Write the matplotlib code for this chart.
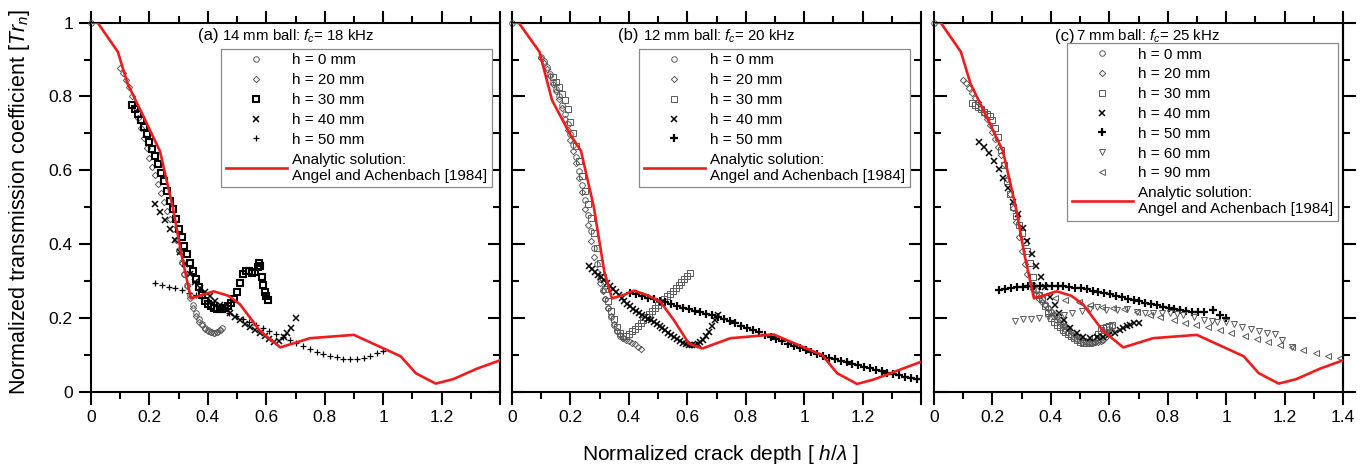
import matplotlib
matplotlib.use('Agg')
import matplotlib.pyplot as plt
from matplotlib.ticker import MultipleLocator, FuncFormatter

# ---------------- DATA ----------------
# Analytic solution (Angel and Achenbach 1984)
AN_X = [0, 0.023, 0.092, 0.125, 0.18, 0.236, 0.28, 0.31, 0.342, 0.38, 0.42, 0.47, 0.51, 0.578,
        0.648, 0.75, 0.9, 1.06, 1.112, 1.18, 1.24, 1.32, 1.4]
AN_Y = [1.0, 1.0, 0.921, 0.835, 0.745, 0.652, 0.50, 0.37, 0.253, 0.262, 0.272, 0.26, 0.237, 0.165,
        0.12, 0.145, 0.154, 0.096, 0.05, 0.022, 0.034, 0.062, 0.085]
AN_B_X = [0, 0.023, 0.094, 0.137, 0.2, 0.236, 0.28, 0.316, 0.342, 0.382, 0.417, 0.462, 0.508, 0.554,
          0.605, 0.651, 0.748, 0.896, 1.062, 1.113, 1.181, 1.238, 1.4]
AN_B_Y = [1.0, 1.0, 0.921, 0.79, 0.696, 0.653, 0.501, 0.325, 0.253, 0.262, 0.274, 0.262, 0.244, 0.194,
          0.131, 0.117, 0.145, 0.155, 0.099, 0.05, 0.021, 0.033, 0.081]

# Panel (a): 14 mm ball, fc = 18 kHz
A_H0_X = [0.0, 0.30, 0.31, 0.32, 0.33, 0.34, 0.35, 0.36, 0.37, 0.38, 0.39, 0.40, 0.41, 0.42, 0.43, 0.44, 0.447]
A_H0_Y = [1.0, 0.384, 0.352, 0.32, 0.29, 0.262, 0.236, 0.213, 0.196, 0.183, 0.173, 0.166, 0.161, 0.159, 0.161, 0.166, 0.172]
A_H20_X = [0.10, 0.11, 0.12, 0.13, 0.14, 0.15, 0.16, 0.17, 0.18, 0.19, 0.20, 0.21, 0.22, 0.23, 0.24, 0.25,
           0.26, 0.27, 0.28, 0.29, 0.30, 0.31, 0.32, 0.33, 0.34, 0.35, 0.36, 0.37, 0.38, 0.39, 0.40, 0.41,
           0.42, 0.43, 0.44]
A_H20_Y = [0.878, 0.863, 0.845, 0.826, 0.80, 0.772, 0.742, 0.714, 0.687, 0.66, 0.633, 0.61, 0.586, 0.562,
           0.538, 0.514, 0.49, 0.467, 0.44, 0.41, 0.381, 0.35, 0.318, 0.287, 0.255, 0.228, 0.205, 0.19,
           0.18, 0.171, 0.165, 0.161, 0.159, 0.161, 0.168]
A_H30_X = [0.14, 0.15, 0.16, 0.17, 0.18, 0.19, 0.20, 0.21, 0.22, 0.23, 0.24, 0.25, 0.26, 0.27, 0.28, 0.29,
           0.30, 0.31, 0.32, 0.33, 0.34, 0.35, 0.36, 0.37, 0.38, 0.39, 0.40, 0.41, 0.42, 0.43, 0.44, 0.45,
           0.46, 0.47, 0.48, 0.49, 0.50, 0.51, 0.52, 0.53, 0.54, 0.55, 0.56, 0.57, 0.575, 0.58, 0.585,
           0.59, 0.595, 0.60, 0.607]
A_H30_Y = [0.778, 0.766, 0.752, 0.736, 0.718, 0.698, 0.678, 0.658, 0.638, 0.618, 0.594, 0.57, 0.544, 0.518,
           0.494, 0.468, 0.442, 0.418, 0.395, 0.372, 0.35, 0.328, 0.305, 0.283, 0.262, 0.247, 0.237, 0.231,
           0.227, 0.225, 0.224, 0.225, 0.228, 0.232, 0.24, 0.252, 0.27, 0.295, 0.318, 0.328, 0.328, 0.322,
           0.325, 0.338, 0.348, 0.34, 0.312, 0.288, 0.27, 0.258, 0.248]
A_H40_X = [0.22, 0.237, 0.254, 0.271, 0.288, 0.305, 0.322, 0.339, 0.356, 0.373, 0.39, 0.407, 0.424, 0.441,
           0.458, 0.475, 0.492, 0.509, 0.526, 0.543, 0.56, 0.577, 0.594, 0.611, 0.628, 0.645, 0.66, 0.672,
           0.685, 0.70]
A_H40_Y = [0.51, 0.488, 0.465, 0.44, 0.41, 0.378, 0.345, 0.318, 0.297, 0.282, 0.27, 0.258, 0.247, 0.236,
           0.224, 0.212, 0.202, 0.193, 0.184, 0.175, 0.166, 0.158, 0.15, 0.142, 0.136, 0.137, 0.148, 0.158,
           0.172, 0.2]
A_H50_X = [0.22, 0.243, 0.266, 0.289, 0.312, 0.335, 0.358, 0.381, 0.404, 0.427, 0.45, 0.473, 0.496, 0.519,
           0.542, 0.565, 0.588, 0.611, 0.634, 0.657, 0.68, 0.703, 0.726, 0.749, 0.772, 0.795, 0.818, 0.841,
           0.864, 0.887, 0.91, 0.933, 0.956, 0.979, 1.0]
A_H50_Y = [0.294, 0.289, 0.285, 0.280, 0.275, 0.268, 0.262, 0.255, 0.246, 0.236, 0.226, 0.214, 0.204, 0.196,
           0.188, 0.181, 0.173, 0.164, 0.156, 0.148, 0.14, 0.133, 0.124, 0.115, 0.108, 0.102, 0.097, 0.093,
           0.089, 0.088, 0.089, 0.092, 0.098, 0.104, 0.111]

# Panel (b): 12 mm ball, fc = 20 kHz
B_H0_X = [0.0, 0.10, 0.11, 0.12, 0.13, 0.14, 0.15, 0.16, 0.17, 0.18, 0.19, 0.20, 0.21, 0.22, 0.23, 0.24,
          0.25, 0.26, 0.27, 0.28, 0.29, 0.30, 0.31, 0.32, 0.33, 0.34, 0.35, 0.36, 0.37, 0.38]
B_H0_Y = [1.0, 0.908, 0.895, 0.88, 0.862, 0.84, 0.82, 0.8, 0.778, 0.752, 0.725, 0.698, 0.668, 0.635, 0.598,
          0.56, 0.52, 0.478, 0.435, 0.39, 0.345, 0.305, 0.275, 0.25, 0.226, 0.203, 0.182, 0.165, 0.152, 0.146]
B_H20_X = [0.10, 0.11, 0.12, 0.13, 0.14, 0.15, 0.16, 0.17, 0.18, 0.19, 0.20, 0.21, 0.22, 0.23, 0.24, 0.25,
           0.26, 0.27, 0.28, 0.29, 0.30, 0.31, 0.32, 0.33, 0.34, 0.35, 0.36, 0.37, 0.38, 0.39, 0.40, 0.41,
           0.42, 0.43, 0.44]
B_H20_Y = [0.905, 0.89, 0.875, 0.855, 0.835, 0.815, 0.793, 0.768, 0.738, 0.71, 0.682, 0.652, 0.62, 0.58,
           0.54, 0.495, 0.452, 0.408, 0.365, 0.325, 0.295, 0.272, 0.25, 0.228, 0.205, 0.184, 0.165, 0.153,
           0.146, 0.141, 0.137, 0.133, 0.128, 0.122, 0.116]
B_H30_X = [0.14, 0.15, 0.16, 0.17, 0.18, 0.19, 0.20, 0.21, 0.22, 0.23, 0.24, 0.25, 0.26, 0.27, 0.28, 0.29,
           0.30, 0.31, 0.32, 0.33, 0.34, 0.35, 0.36, 0.37, 0.38, 0.39, 0.40, 0.41, 0.42, 0.43, 0.44, 0.45,
           0.46, 0.47, 0.48, 0.49, 0.50, 0.51, 0.52, 0.53, 0.54, 0.55, 0.56, 0.57, 0.58, 0.59, 0.60, 0.61]
B_H30_Y = [0.854, 0.84, 0.825, 0.808, 0.79, 0.765, 0.73, 0.70, 0.665, 0.625, 0.585, 0.545, 0.508, 0.47,
           0.43, 0.39, 0.35, 0.312, 0.278, 0.245, 0.218, 0.196, 0.175, 0.16, 0.15, 0.15, 0.157, 0.164, 0.171,
           0.179, 0.187, 0.195, 0.203, 0.211, 0.219, 0.227, 0.235, 0.243, 0.25, 0.258, 0.266, 0.274, 0.282,
           0.29, 0.298, 0.306, 0.314, 0.321]
B_H40_X = [0.265, 0.275, 0.285, 0.295, 0.305, 0.315, 0.325, 0.335, 0.345, 0.355, 0.365, 0.375, 0.385, 0.395,
           0.405, 0.415, 0.425, 0.435, 0.445, 0.455, 0.465, 0.475, 0.485, 0.495, 0.505, 0.515, 0.525, 0.535,
           0.545, 0.555, 0.565, 0.575, 0.585, 0.595, 0.605, 0.615, 0.625, 0.635, 0.645, 0.655, 0.665, 0.675,
           0.685, 0.695, 0.705]
B_H40_Y = [0.34, 0.333, 0.325, 0.317, 0.31, 0.302, 0.294, 0.286, 0.278, 0.27, 0.262, 0.254, 0.246, 0.239,
           0.232, 0.225, 0.219, 0.213, 0.208, 0.203, 0.198, 0.193, 0.188, 0.184, 0.179, 0.173, 0.166, 0.16,
           0.154, 0.148, 0.142, 0.137, 0.132, 0.128, 0.126, 0.126, 0.127, 0.13, 0.135, 0.141, 0.15, 0.162,
           0.177, 0.193, 0.207]
B_H50_X = [0.405, 0.425, 0.445, 0.465, 0.485, 0.505, 0.525, 0.545, 0.565, 0.585, 0.605, 0.625, 0.645, 0.665,
           0.685, 0.705, 0.725, 0.745, 0.765, 0.785, 0.805, 0.825, 0.845, 0.865, 0.885, 0.905, 0.925, 0.945,
           0.965, 0.985, 1.005, 1.025, 1.045, 1.065, 1.085, 1.105, 1.125, 1.145, 1.165, 1.185, 1.205, 1.225,
           1.245, 1.265, 1.285, 1.305, 1.325, 1.345, 1.365, 1.385]
B_H50_Y = [0.268, 0.264, 0.259, 0.255, 0.251, 0.247, 0.243, 0.238, 0.233, 0.228, 0.223, 0.219, 0.215, 0.211,
           0.207, 0.203, 0.197, 0.191, 0.185, 0.179, 0.173, 0.167, 0.161, 0.155, 0.149, 0.143, 0.137, 0.13,
           0.123, 0.118, 0.112, 0.107, 0.102, 0.097, 0.092, 0.088, 0.084, 0.08, 0.076, 0.072, 0.068, 0.064,
           0.06, 0.056, 0.052, 0.048, 0.045, 0.041, 0.038, 0.035]

# Panel (c): 7 mm ball, fc = 25 kHz
C_H0_X = [0.0, 0.34, 0.35, 0.36, 0.37, 0.38, 0.39, 0.40, 0.41, 0.42, 0.43, 0.44, 0.45, 0.46, 0.47, 0.48,
          0.49, 0.50, 0.51, 0.52, 0.53, 0.54, 0.55, 0.56, 0.57, 0.58, 0.59, 0.60, 0.61]
C_H0_Y = [1.0, 0.29, 0.275, 0.262, 0.25, 0.238, 0.226, 0.215, 0.205, 0.195, 0.186, 0.178, 0.17, 0.162,
          0.155, 0.149, 0.144, 0.139, 0.136, 0.134, 0.132, 0.133, 0.135, 0.14, 0.146, 0.153, 0.163, 0.171, 0.178]
C_H20_X = [0.10, 0.11, 0.12, 0.13, 0.14, 0.15, 0.16, 0.17, 0.18, 0.19, 0.20, 0.21, 0.22, 0.23, 0.24, 0.25,
           0.26, 0.27, 0.28, 0.29, 0.30, 0.31, 0.32, 0.33, 0.34, 0.35, 0.36, 0.37, 0.38, 0.39, 0.40, 0.41,
           0.42, 0.43, 0.44, 0.45, 0.46, 0.47, 0.48, 0.49, 0.50, 0.51, 0.52, 0.53, 0.54, 0.55, 0.56, 0.57,
           0.58, 0.59, 0.60, 0.61]
C_H20_Y = [0.846, 0.836, 0.824, 0.81, 0.797, 0.784, 0.77, 0.756, 0.74, 0.722, 0.703, 0.684, 0.664, 0.642,
           0.616, 0.577, 0.537, 0.498, 0.459, 0.42, 0.381, 0.346, 0.318, 0.293, 0.278, 0.264, 0.251, 0.243,
           0.235, 0.228, 0.22, 0.211, 0.203, 0.195, 0.187, 0.179, 0.172, 0.164, 0.157, 0.151, 0.145, 0.141,
           0.137, 0.134, 0.133, 0.134, 0.136, 0.138, 0.141, 0.148, 0.156, 0.165]
C_H30_X = [0.13, 0.14, 0.15, 0.16, 0.17, 0.18, 0.19, 0.20, 0.21, 0.22, 0.23, 0.24, 0.25, 0.26, 0.27, 0.28,
           0.29, 0.30, 0.31, 0.32, 0.33, 0.34, 0.35, 0.36, 0.37, 0.38, 0.39, 0.40, 0.41, 0.42, 0.43, 0.44,
           0.45, 0.46, 0.47, 0.48, 0.49, 0.50, 0.51, 0.52, 0.53, 0.54, 0.55, 0.56, 0.57, 0.58, 0.59, 0.60, 0.61]
C_H30_Y = [0.782, 0.778, 0.772, 0.765, 0.758, 0.752, 0.746, 0.736, 0.715, 0.69, 0.655, 0.615, 0.57, 0.535,
           0.5, 0.475, 0.452, 0.43, 0.405, 0.382, 0.35, 0.31, 0.278, 0.262, 0.25, 0.232, 0.213, 0.2, 0.19,
           0.182, 0.175, 0.168, 0.162, 0.156, 0.15, 0.145, 0.14, 0.136, 0.133, 0.131, 0.132, 0.136, 0.145,
           0.156, 0.166, 0.172, 0.176, 0.179, 0.182]
C_H40_X = [0.155, 0.171, 0.188, 0.205, 0.223, 0.237, 0.255, 0.272, 0.287, 0.303, 0.317, 0.334, 0.349, 0.365,
           0.381, 0.397, 0.414, 0.429, 0.445, 0.466, 0.489, 0.511, 0.534, 0.557, 0.58, 0.60, 0.62, 0.635,
           0.648, 0.66, 0.671, 0.685, 0.70]
C_H40_Y = [0.678, 0.664, 0.646, 0.626, 0.603, 0.578, 0.551, 0.515, 0.481, 0.444, 0.409, 0.373, 0.341, 0.31,
           0.283, 0.257, 0.235, 0.212, 0.194, 0.172, 0.158, 0.149, 0.145, 0.147, 0.149, 0.155, 0.16, 0.167,
           0.172, 0.178, 0.182, 0.185, 0.186]
C_H50_X = [0.223, 0.243, 0.263, 0.283, 0.303, 0.323, 0.343, 0.363, 0.383, 0.403, 0.423, 0.443, 0.463, 0.483,
           0.503, 0.523, 0.543, 0.563, 0.583, 0.603, 0.623, 0.643, 0.663, 0.683, 0.703, 0.723, 0.743, 0.763,
           0.783, 0.803, 0.823, 0.843, 0.863, 0.883, 0.903, 0.923, 0.955, 0.98, 1.0]
C_H50_Y = [0.276, 0.279, 0.281, 0.283, 0.285, 0.286, 0.286, 0.287, 0.287, 0.287, 0.287, 0.286, 0.284, 0.282,
           0.28, 0.277, 0.274, 0.27, 0.267, 0.264, 0.26, 0.256, 0.252, 0.248, 0.245, 0.241, 0.238, 0.234,
           0.23, 0.227, 0.224, 0.221, 0.219, 0.217, 0.216, 0.215, 0.221, 0.208, 0.199]
C_H60_X = [0.277, 0.306, 0.331, 0.361, 0.39, 0.417, 0.445, 0.472, 0.506, 0.535, 0.557, 0.59, 0.626, 0.66,
           0.694, 0.722, 0.751, 0.78, 0.808, 0.832, 0.854, 0.889, 0.924, 0.95, 0.97, 0.998, 1.027, 1.055,
           1.084, 1.113, 1.141, 1.166, 1.192, 1.227]
C_H60_Y = [0.192, 0.196, 0.198, 0.2, 0.203, 0.206, 0.209, 0.212, 0.22, 0.225, 0.229, 0.222, 0.221, 0.223,
           0.215, 0.214, 0.212, 0.212, 0.212, 0.21, 0.208, 0.203, 0.195, 0.192, 0.19, 0.189, 0.183, 0.176,
           0.171, 0.165, 0.16, 0.156, 0.14, 0.121]
C_H90_X = [0.414, 0.449, 0.495, 0.534, 0.574, 0.614, 0.652, 0.694, 0.74, 0.774, 0.82, 0.858, 0.898, 0.938,
           0.978, 1.018, 1.064, 1.104, 1.144, 1.184, 1.224, 1.264, 1.306, 1.348, 1.39]
C_H90_Y = [0.253, 0.249, 0.244, 0.235, 0.23, 0.226, 0.223, 0.217, 0.208, 0.202, 0.194, 0.187, 0.181, 0.174,
           0.167, 0.16, 0.151, 0.142, 0.136, 0.127, 0.121, 0.114, 0.106, 0.098, 0.091]

X_TICKS = [0, 0.2, 0.4, 0.6, 0.8, 1.0, 1.2, 1.4]
Y_TICKS = [0, 0.2, 0.4, 0.6, 0.8, 1.0]
TITLES = [("(a)", r"14 mm ball: $f_c$= 18 kHz"),
          ("(b)", r"12 mm ball: $f_c$= 20 kHz"),
          ("(c)", r"7 mm ball: $f_c$= 25 kHz")]
ANALYTIC_LABEL = "Analytic solution:\nAngel and Achenbach [1984]"

# ---------------- STYLE ----------------
plt.rcParams['font.family'] = ['Liberation Sans', 'DejaVu Sans']
plt.rcParams['mathtext.fontset'] = 'custom'
plt.rcParams['mathtext.rm'] = 'Liberation Sans'
plt.rcParams['mathtext.it'] = 'Liberation Sans:italic'
plt.rcParams['mathtext.bf'] = 'Liberation Sans:bold'

GRAY = '#5a5a5a'
RED = '#ee1c1c'
SPINE_W = 1.5

def sty(marker, color, ms, mew, fill='none'):
    return dict(marker=marker, linestyle='none', markersize=ms, markeredgewidth=mew,
                markeredgecolor=color, markerfacecolor=fill, color=color, clip_on=False)

ST_H0 = sty('o', GRAY, 4.0, 0.7)
ST_H20 = sty('D', GRAY, 3.2, 0.7)
ST_H30_BLACK = sty('s', 'black', 4.2, 1.5)
ST_H30_GRAY = sty('s', GRAY, 4.8, 0.7)
ST_H40 = sty('x', 'black', 4.3, 1.1)
ST_H50_THIN = sty('+', 'black', 5.0, 0.9)
ST_H50_BOLD = sty('+', 'black', 5.2, 1.6)
ST_H60 = sty('v', GRAY, 4.5, 0.7)
ST_H90 = sty('<', GRAY, 4.5, 0.7)

panels = [
    dict(rect=(91, 500), title=TITLES[0], tpos=(0.2616, 0.3203, 0.964), leg=(0.318, 0.929),
         ylab=True, left_dir='out', right_dir='in', an=(AN_X, AN_Y), xlast=False,
         series=[("h = 0 mm", A_H0_X, A_H0_Y, ST_H0), ("h = 20 mm", A_H20_X, A_H20_Y, ST_H20),
                 ("h = 30 mm", A_H30_X, A_H30_Y, ST_H30_BLACK), ("h = 40 mm", A_H40_X, A_H40_Y, ST_H40),
                 ("h = 50 mm", A_H50_X, A_H50_Y, ST_H50_THIN)]),
    dict(rect=(512, 921), title=TITLES[1], tpos=(0.259, 0.320, 0.964), leg=(0.3105, 0.929),
         ylab=False, left_dir='in', right_dir='in', an=(AN_B_X, AN_B_Y), xlast=False,
         series=[("h = 0 mm", B_H0_X, B_H0_Y, ST_H0), ("h = 20 mm", B_H20_X, B_H20_Y, ST_H20),
                 ("h = 30 mm", B_H30_X, B_H30_Y, ST_H30_GRAY), ("h = 40 mm", B_H40_X, B_H40_Y, ST_H40),
                 ("h = 50 mm", B_H50_X, B_H50_Y, ST_H50_BOLD)]),
    dict(rect=(934, 1343), title=TITLES[2], tpos=(0.296, 0.347, 0.962), leg=(0.325, 0.945),
         ylab=False, left_dir='in', right_dir='out', an=(AN_X, AN_Y), xlast=True,
         series=[("h = 0 mm", C_H0_X, C_H0_Y, ST_H0), ("h = 20 mm", C_H20_X, C_H20_Y, ST_H20),
                 ("h = 30 mm", C_H30_X, C_H30_Y, ST_H30_GRAY), ("h = 40 mm", C_H40_X, C_H40_Y, ST_H40),
                 ("h = 50 mm", C_H50_X, C_H50_Y, ST_H50_BOLD), ("h = 60 mm", C_H60_X, C_H60_Y, ST_H60),
                 ("h = 90 mm", C_H90_X, C_H90_Y, ST_H90)]),
]

W, H = 1366, 471
TOP_PX, BOT_PX = 22.7, 391.7
fig = plt.figure(figsize=(W / 100, H / 100), dpi=100)

def fmt(v):
    s = ('%.1f' % v)
    if s.endswith('.0'):
        s = s[:-2]
    return s

for p in panels:
    l, r = p['rect']
    ax = fig.add_axes([l / W, 1 - BOT_PX / H, (r - l) / W, (BOT_PX - TOP_PX) / H])
    ax.set_xlim(0, 1.4)
    ax.set_ylim(0, 1)
    handles = []
    for label, xs, ys, st in p['series']:
        h, = ax.plot(xs, ys, label=label, zorder=2, **st)
        handles.append(h)
    hl, = ax.plot(p['an'][0], p['an'][1], color=RED, lw=1.9, zorder=3, label=ANALYTIC_LABEL)
    handles.append(hl)

    for s in ax.spines.values():
        s.set_linewidth(SPINE_W)
    ax.xaxis.set_major_locator(MultipleLocator(0.2))
    ax.xaxis.set_minor_locator(MultipleLocator(0.1))
    ax.yaxis.set_major_locator(MultipleLocator(0.2))
    ax.yaxis.set_minor_locator(MultipleLocator(0.1))
    xlast = p['xlast']
    ax.xaxis.set_major_formatter(FuncFormatter(
        lambda v, pos, xl=xlast: '' if (v > 1.35 and not xl) else fmt(v)))
    ax.yaxis.set_major_formatter(FuncFormatter(lambda v, pos: fmt(v)))
    ax.tick_params(axis='x', which='both', direction='out', top=True, bottom=True,
                   width=SPINE_W, labelsize=12.5, pad=4)
    ax.tick_params(axis='x', which='major', length=9)
    ax.tick_params(axis='x', which='minor', length=5)
    if p['left_dir'] == p['right_dir']:
        ax.tick_params(axis='y', which='both', direction=p['left_dir'], left=True, right=True,
                       labelleft=p['ylab'], width=SPINE_W, labelsize=12.5, pad=4)
    else:
        ax.tick_params(axis='y', which='both', direction=p['left_dir'], left=True, right=False,
                       labelleft=p['ylab'], width=SPINE_W, labelsize=12.5, pad=4)
        sec = ax.secondary_yaxis('right')
        sec.set_yticks(Y_TICKS)
        sec.yaxis.set_minor_locator(MultipleLocator(0.1))
        sec.tick_params(axis='y', which='both', direction=p['right_dir'], labelright=False,
                        width=SPINE_W)
        sec.tick_params(axis='y', which='major', length=9)
        sec.tick_params(axis='y', which='minor', length=5)
        for s in sec.spines.values():
            s.set_linewidth(SPINE_W)
    ax.tick_params(axis='y', which='major', length=9)
    ax.tick_params(axis='y', which='minor', length=5)

    tl, tr = p['title']
    x1, x2, ty = p['tpos']
    ax.text(x1, ty, tl, transform=ax.transAxes, fontsize=12, ha='left', va='center')
    ax.text(x2, ty, tr, transform=ax.transAxes, fontsize=10.8, ha='left', va='center')

    leg = ax.legend(handles=handles, loc='upper left', bbox_to_anchor=p['leg'], borderaxespad=0,
                    fontsize=11, frameon=True, fancybox=False, framealpha=1, edgecolor='#8a8a8a',
                    borderpad=0.3, labelspacing=0.38, handlelength=4.0, handletextpad=0.35,
                    markerscale=1.0)
    leg.get_frame().set_linewidth(0.9)
    leg.set_zorder(10)

fig.text(20 / W, 0.572, r"Normalized transmission coefficient [$Tr_n$]", rotation=90,
         fontsize=15.5, ha='center', va='center')
fig.text(0.527, 0.034, r"Normalized crack depth [ $h/\lambda$ ]", fontsize=15,
         ha='center', va='center')

fig.savefig('out.png', dpi=100)
